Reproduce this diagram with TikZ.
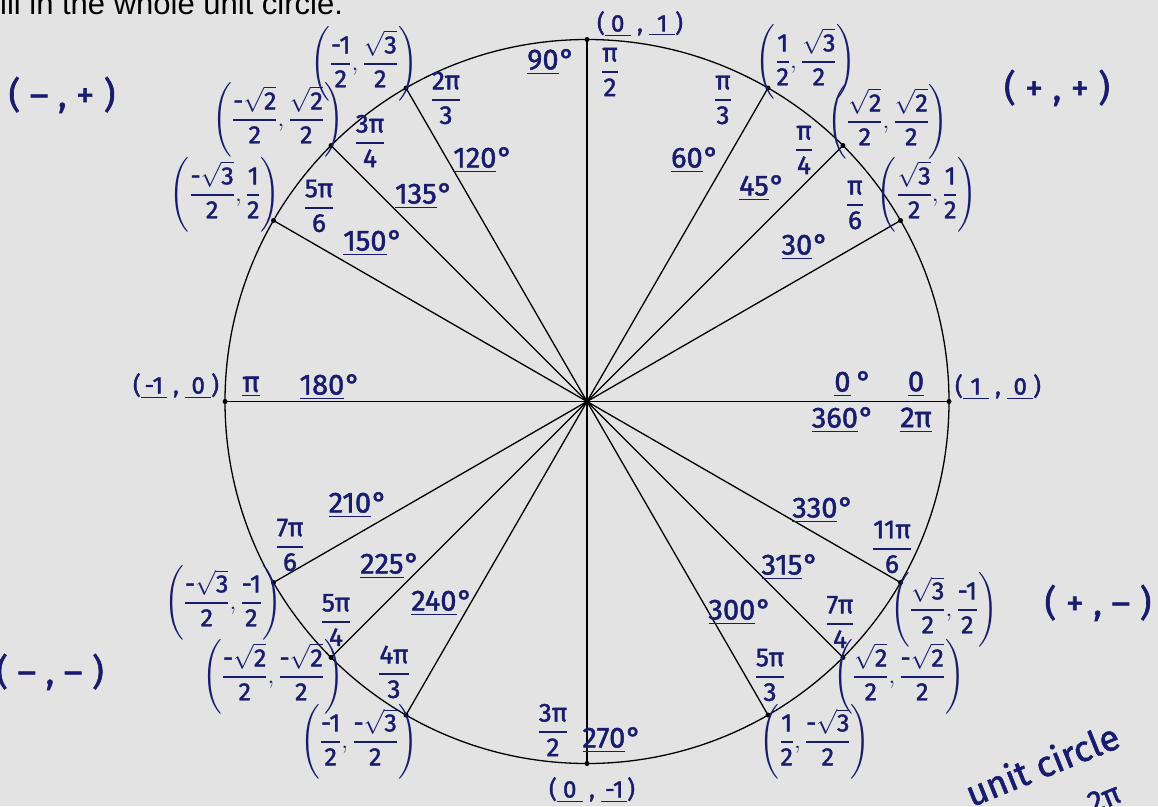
\documentclass[tikz,border=0pt]{standalone}
\usepackage{amsmath}
\usepackage{fontspec}
\setmainfont{Fira Sans}[FakeBold=1.6]
\newfontfamily\printfont{Liberation Sans}
\usetikzlibrary{calc}
\definecolor{ink}{RGB}{24,28,110}
\definecolor{paper}{RGB}{227,227,227}
\newcommand\rt[1]{\ensuremath{\sqrt{\mbox{#1}}}}
\newcommand\radfr[2]{$\displaystyle\genfrac{}{}{1.8pt}{0}{\mbox{#1}}{\mbox{#2}}$}
\newcommand\cpt[4]{$\displaystyle\left(\genfrac{}{}{1.4pt}{0}{\mbox{#1}}{\mbox{#2}},\genfrac{}{}{1.4pt}{0}{\mbox{#3}}{\mbox{#4}}\right)$}
\newcommand\blank[1]{\underline{\makebox[26pt]{#1}}}
\newcommand\dgr[1]{\underline{#1}\kern1pt°}
\tikzset{
  hand/.style={text=ink, inner sep=0pt},
  degl/.style={hand, font=\fontsize{29}{31}\selectfont},
  radl/.style={hand, font=\fontsize{26}{28}\selectfont},
  coordl/.style={hand, font=\fontsize{25}{27}\selectfont},
  axl/.style={hand, font=\fontsize{24}{26}\selectfont},
  quadl/.style={hand, font=\fontsize{36}{38}\selectfont},
  spoke/.style={line width=1.3pt, draw=black},
  dotp/.style={circle, fill=black, inner sep=0pt, minimum size=5pt}
}
\begin{document}
\begin{tikzpicture}[x=1pt,y=-1pt]
\fill[paper] (0,0) rectangle (1158,806);
\useasboundingbox (0,0) rectangle (1158,806);
\clip (0,0) rectangle (1158,806);
% title (cut off)
\node[anchor=base west, inner sep=0pt, text=black, font=\printfont\fontsize{31}{33}\selectfont] (title) at (-19,14) {Fill in the whole unit circle.};
% circle and spokes
\coordinate (C) at (587,401.5);
\draw[line width=1.3pt] (C) circle (362pt);
\foreach \a in {0,30,45,60,90,120,135,150,180,210,225,240,270,300,315,330}{
  \coordinate (p\a) at ($(C)+({362*cos(\a)},{-362*sin(\a)})$);
  \draw[spoke] (C) -- (p\a);
  \node[dotp] (d\a) at (p\a) {};
}
% quadrant signs
\node[quadl] (q2) at (62,95) {( – , + )};
\node[quadl] (q1) at (1057,88) {( + , + )};
\node[quadl] (q4) at (1098,603) {( + , – )};
\node[quadl] (q3) at (50,672) {( – , – )};
% coordinates on axes
\node[axl] (c90) at (640,24) {(\blank{0} , \blank{1})};
\node[axl] (c0) at (998,387) {(\blank{1} , \blank{0})};
\node[axl] (c180) at (176,386) {(\blank{-1} , \blank{0})};
\node[axl] (c270) at (592,790) {(\blank{0} , \blank{-1})};
% coordinates
\node[coordl] (c30) at (927,195) {\cpt{\rt3}{2}{1}{2}};
\node[coordl] (c45) at (888,122) {\cpt{\rt2}{2}{\rt2}{2}};
\node[coordl] (c60) at (806,62) {\cpt{1}{2}{\rt3}{2}};
\node[coordl] (c120) at (364,64) {\cpt{-1}{2}{\rt3}{2}};
\node[coordl] (c135) at (278,120) {\cpt{-\rt2}{2}{\rt2}{2}};
\node[coordl] (c150) at (225,195) {\cpt{-\rt3}{2}{1}{2}};
\node[coordl] (c210) at (223,603) {\cpt{-\rt3}{2}{-1}{2}};
\node[coordl] (c225) at (273,677) {\cpt{-\rt2}{2}{-\rt2}{2}};
\node[coordl] (c240) at (359,742) {\cpt{-1}{2}{-\rt3}{2}};
\node[coordl] (c300) at (815,742) {\cpt{1}{2}{-\rt3}{2}};
\node[coordl] (c315) at (899,677) {\cpt{\rt2}{2}{-\rt2}{2}};
\node[coordl] (c330) at (944,610) {\cpt{\rt3}{2}{-1}{2}};
% radians
\node[radl] (r90) at (610,72) {\radfr{π}{2}};
\node[radl] (r60) at (723,100) {\radfr{π}{3}};
\node[radl] (r45) at (804,150) {\radfr{π}{4}};
\node[radl] (r30) at (855,205) {\radfr{π}{6}};
\node[radl] (r120) at (446,98) {\radfr{2π}{3}};
\node[radl] (r135) at (370,141) {\radfr{3π}{4}};
\node[radl] (r150) at (319,206) {\radfr{5π}{6}};
\node[degl] (r180) at (251,387) {\underline{π}};
\node[radl] (r210) at (290,545) {\radfr{7π}{6}};
\node[radl] (r225) at (336,620) {\radfr{5π}{4}};
\node[radl] (r240) at (394,672) {\radfr{4π}{3}};
\node[radl] (r270) at (553,730) {\radfr{3π}{2}};
\node[radl] (r300) at (770,675) {\radfr{5π}{3}};
\node[radl] (r315) at (840,622) {\radfr{7π}{4}};
\node[radl] (r330) at (892,547) {\radfr{11π}{6}};
\node[degl] (r0) at (916,384) {\underline{0}};
\node[degl] (r360) at (916,420) {\underline{2π}};
% degrees
\node[degl] (g90) at (551,62) {\dgr{90}};
\node[degl] (g60) at (695,160) {\dgr{60}};
\node[degl] (g45) at (762,188) {\dgr{45}};
\node[degl] (g30) at (805,247) {\dgr{30}};
\node[degl] (g120) at (483,160) {\dgr{120}};
\node[degl] (g135) at (424,196) {\dgr{135}};
\node[degl] (g150) at (373,243) {\dgr{150}};
\node[degl] (g180) at (330,387) {\dgr{180}};
\node[degl] (g210) at (358,505) {\dgr{210}};
\node[degl] (g225) at (390,566) {\dgr{225}};
\node[degl] (g240) at (442,603) {\dgr{240}};
\node[degl] (g270) at (612,740) {\dgr{270}};
\node[degl] (g300) at (740,612) {\dgr{300}};
\node[degl] (g315) at (790,567) {\dgr{315}};
\node[degl] (g330) at (823,510) {\dgr{330}};
\node[degl] (g0) at (853,384) {\underline{0}\kern6pt°};
\node[degl] (g360) at (843,420) {\dgr{360}};
% side note (cut off)
\node[hand, font=\fontsize{36}{38}\selectfont, rotate=22] (note) at (1042,764) {unit circle};
\node[hand, font=\fontsize{30}{32}\selectfont, rotate=22] (note2) at (1104,798) {2π};
\end{tikzpicture}
\end{document}
